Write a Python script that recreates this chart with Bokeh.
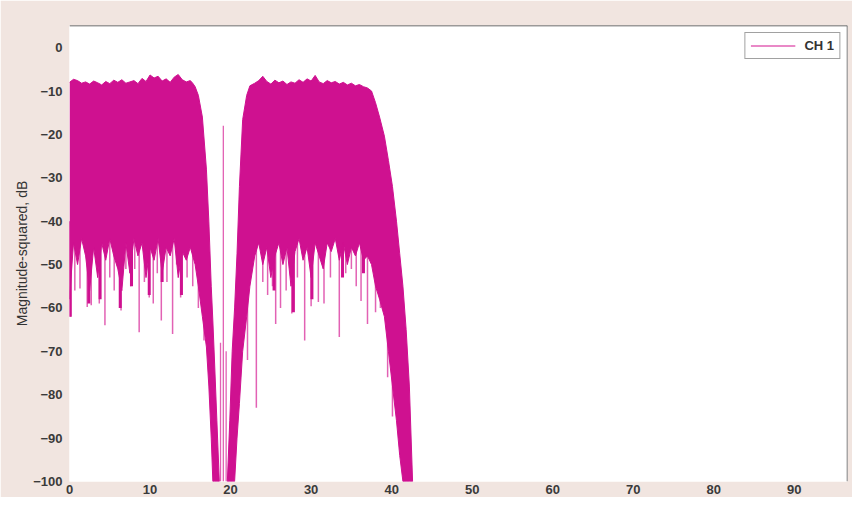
from bokeh.plotting import figure
from bokeh.models import Range1d, Span, Legend, LegendItem, FixedTicker
from bokeh.embed import file_html
from bokeh.resources import INLINE

# ---- data (frequency units, dB) ----
band1_x = [0, 0.5, 1, 1.5, 2, 2.5, 3, 3.5, 4, 4.5, 5, 5.5, 6, 6.5, 7, 7.5, 8, 8.5,
           9, 9.5, 10, 10.5, 11, 11.5, 12, 12.5, 13, 13.5, 14, 14.5, 15, 15.3,
           15.6, 16.0, 16.5, 17.0, 17.3, 17.6, 17.8, 18.0, 18.3, 18.6]
band1_top = [-8.0, -7.3, -7.6, -8.2, -7.9, -8.4, -7.7, -8.1, -8.6, -7.8, -8.3, -7.5,
             -8.0, -7.4, -8.2, -7.9, -7.6, -8.3, -7.1, -7.8, -6.3, -7.0, -6.6, -7.7,
             -7.2, -8.0, -6.8, -6.2, -7.4, -7.9, -7.6, -8.2,
             -9, -11, -16, -28, -40, -55, -63, -72, -86, -100]
band1_floor = [-58, -45, -50, -44, -48, -56, -46, -53, -45, -49, -44, -48, -51, -56,
               -45, -52, -44, -48, -45, -53, -46, -49, -44, -52, -46, -48, -44, -53,
               -47, -49, -46, -48,
               -50, -55, -62, -69, -78, -90, -100, -100, -100, -100]

band2_x = [19.6, 19.9, 20.2, 20.5, 20.8, 21.1, 21.5, 22.0, 22.4,
           23.0, 23.5, 24.0, 24.5, 25.0, 25.5, 26.0, 26.5, 27.0, 27.5, 28.0, 28.5,
           29.0, 29.5, 30.0, 30.5, 31.0, 31.5, 32.0, 32.5, 33.0, 33.5, 34.0, 34.5,
           35.0, 35.5, 36.0, 36.5, 37.0,
           37.5, 38.0, 38.5, 39.1, 39.6, 40.1, 40.6, 41.0, 41.4, 41.8, 42.2, 42.6]
band2_top = [-100, -86, -70, -60, -47.5, -32, -16.6, -11, -8.8,
             -8.2, -7.6, -6.6, -7.8, -8.4, -7.5, -8.1, -7.7, -8.5, -7.9, -8.2, -7.4,
             -8.0, -7.2, -7.7, -6.4, -7.9, -8.3, -7.6, -8.1, -7.8, -8.4, -8.0, -8.6,
             -8.2, -8.8, -8.5, -9.0, -9.3,
             -10, -12.7, -16, -20.4, -26, -32, -40, -47.5, -55, -65, -78, -100]
band2_floor = [-100, -100, -100, -100, -90, -82, -70, -62, -55,
               -48, -45, -50, -46, -53, -48, -45, -50, -46, -55, -47, -44, -49, -46,
               -53, -45, -48, -51, -45, -47, -44, -49, -45, -50, -46, -48, -45, -49,
               -48,
               -50, -55, -58, -62, -70, -78, -86, -94, -100, -100, -100, -100]

# darker teeth hanging below the dense floor
tooth_x = [0.1, 2.4, 3.8, 6.3, 7.7, 9.9, 11.5, 13.9, 25.4, 27.8, 30.1, 33.9, 36.5]
tooth_db = [-62, -59, -58, -60, -55, -57, -54, -57, -56, -61, -58, -53, -52]

# thin deep dips
spike_x = [0.08, 0.66, 1.3, 2.2, 2.7, 3.7, 4.4, 5.0, 5.55, 6.4, 7.0, 7.6, 8.1, 8.65,
           9.3, 9.9, 10.4, 10.9, 11.4, 12.1, 12.8, 13.3, 13.8, 14.6, 15.3, 16.0, 16.7,
           22.1, 23.2, 24.0, 24.6, 25.2, 25.6, 26.2, 26.9, 27.6, 28.3, 29.2, 30.0,
           30.9, 31.6, 32.4, 33.5, 34.3, 35.0, 35.6, 36.2, 37.0, 38.0, 38.6, 39.5, 40.1]
spike_db = [-62, -56, -55.5, -59.8, -59.4, -59, -64, -53, -56, -60.6, -51, -55, -51,
            -65.6, -54, -57.6, -59, -52, -62.9, -54, -66, -50, -57.6, -53, -55, -60,
            -67.5,
            -72, -83, -54, -57, -55, -63.7, -60, -56, -61.3, -53, -67.5, -59.6, -58.6,
            -59, -53, -66.7, -52, -51, -55, -58.4, -63.7, -61, -60, -76, -85]

# the narrow tone between the two bands
tone_x = [18.75, 19.1, 19.45]
tone_db = [-68, -18, -70]

x_ticks = [0, 10, 20, 30, 40, 50, 60, 70, 80, 90]
y_ticks = [0, -10, -20, -30, -40, -50, -60, -70, -80, -90, -100]
x_max = 96.6
y_min, y_max = -100, 5.1
series_name = "CH 1"
y_title = "Magnitude-squared, dB"

CORE = "#cf1190"
THIN = "#e262b4"
BG = "#f1e5e0"
FONT = "Liberation Sans"

p = figure(width=852, height=497, output_backend="svg", toolbar_location=None,
           x_range=Range1d(0, x_max), y_range=Range1d(y_min, y_max),
           min_border_left=69, min_border_top=25, min_border_right=5,
           min_border_bottom=16)
p.background_fill_color = "white"
p.border_fill_color = BG
p.outline_line_color = None
p.grid.visible = False

spike_r = p.segment(x0=spike_x, y0=[-40] * len(spike_x), x1=spike_x, y1=spike_db,
                    line_color=THIN, line_width=1.5)
p.segment(x0=tone_x, y0=tone_db, x1=tone_x, y1=[y_min] * len(tone_x),
          line_color=THIN, line_width=1.3)
p.segment(x0=tooth_x, y0=[-40] * len(tooth_x), x1=tooth_x, y1=tooth_db,
          line_color=CORE, line_width=3)

p.varea(x=band1_x, y1=band1_floor, y2=band1_top, fill_color=CORE)
p.varea(x=band2_x, y1=band2_floor, y2=band2_top, fill_color=CORE)
p.line(band1_x, band1_top, line_color=CORE, line_width=1)
p.line(band2_x, band2_top, line_color=CORE, line_width=1)
p.line(band1_x, band1_floor, line_color=CORE, line_width=1)
p.line(band2_x, band2_floor, line_color=CORE, line_width=1)

p.add_layout(Span(location=y_max, dimension="width", line_color="#3a3a3a", line_width=1.5))
p.add_layout(Span(location=x_max, dimension="height", line_color="#555555", line_width=1.5))

for ax in (p.xaxis[0], p.yaxis[0]):
    ax.axis_line_color = None
    ax.major_tick_line_color = None
    ax.minor_tick_line_color = None
    ax.major_tick_out = 0
    ax.major_tick_in = 0
    ax.major_label_text_font = FONT
    ax.major_label_text_font_size = "13px"
    ax.major_label_text_font_style = "bold"
    ax.major_label_text_color = "#3a3a3a"

p.xaxis[0].ticker = FixedTicker(ticks=x_ticks)
p.yaxis[0].ticker = FixedTicker(ticks=y_ticks)
p.xaxis[0].major_label_standoff = 3
p.yaxis[0].major_label_standoff = 7
p.yaxis[0].axis_label = y_title
p.yaxis[0].axis_label_text_font = FONT
p.yaxis[0].axis_label_text_font_size = "14px"
p.yaxis[0].axis_label_text_font_style = "normal"
p.yaxis[0].axis_label_text_color = "#333333"
p.yaxis[0].axis_label_standoff = 0

legend = Legend(items=[LegendItem(label=series_name, renderers=[spike_r])],
                location="top_right", margin=7, padding=5, spacing=0,
                glyph_width=45, glyph_height=15, label_height=15,
                label_standoff=9, border_line_color="#444444", border_line_width=1.5,
                background_fill_color="white", background_fill_alpha=1,
                label_text_font=FONT, label_text_font_size="13px",
                label_text_font_style="bold", label_text_color="#333333")
p.add_layout(legend)

open("out.html", "w").write(file_html(p, INLINE))
